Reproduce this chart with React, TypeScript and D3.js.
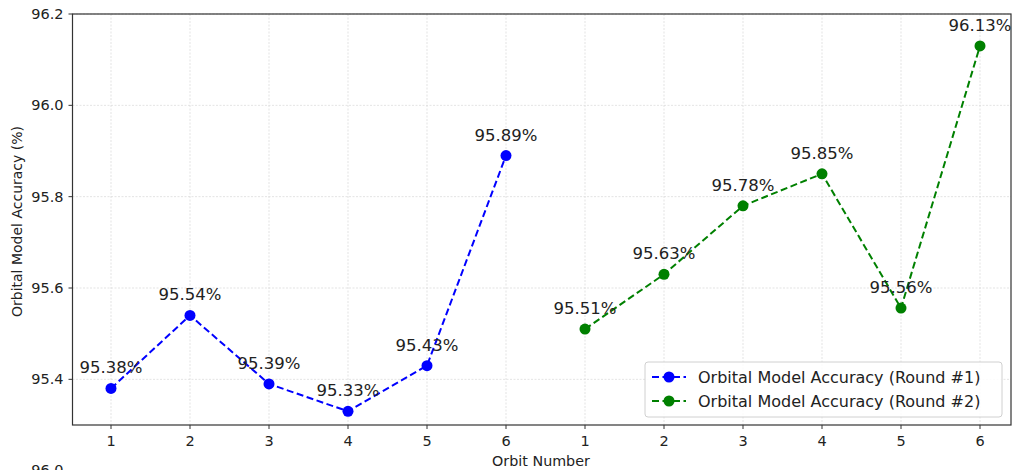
import React from "react";
import * as d3 from "d3";

const orbitLabels = ["1", "2", "3", "4", "5", "6", "1", "2", "3", "4", "5", "6"];
const round1 = [95.38, 95.54, 95.39, 95.33, 95.43, 95.89];
const round2 = [95.51, 95.63, 95.78, 95.85, 95.556, 96.13];
const yTicks = [95.4, 95.6, 95.8, 96.0, 96.2];
const seriesNames = ["Orbital Model Accuracy (Round #1)", "Orbital Model Accuracy (Round #2)"];
const seriesColors = ["#0000ff", "#008000"];

const W = 1012;
const H = 470;
const FONT = "DejaVu Sans, sans-serif";

export default function App() {
  const x = d3.scaleLinear().domain([0, 11]).range([111, 980]);
  const left = 72.5;
  const right = 1011;
  const top = 14;
  const bottom = 425;
  const y = d3.scaleLinear().domain([95.3, 96.2]).range([bottom, top]);
  const line = d3
    .line<[number, number]>()
    .x((d) => x(d[0]))
    .y((d) => y(d[1]));

  const s1: [number, number][] = round1.map((v, i) => [i, v]);
  const s2: [number, number][] = round2.map((v, i) => [i + 6, v]);
  const series = [s1, s2];
  const textColor = "#222";

  return (
    <svg
      width={W}
      height={H}
      style={{ position: "fixed", left: 0, top: 0, background: "#fff" }}
      fontFamily={FONT}
    >
      <rect x={0} y={0} width={W} height={H} fill="#fff" />
      {/* grid */}
      {orbitLabels.map((_, i) => (
        <line
          key={"gx" + i}
          x1={x(i)}
          x2={x(i)}
          y1={top}
          y2={bottom}
          stroke="#dcdcdc"
          strokeWidth={0.8}
          strokeDasharray="2,1.5"
        />
      ))}
      {yTicks.map((t) => (
        <line
          key={"gy" + t}
          x1={left}
          x2={right}
          y1={y(t)}
          y2={y(t)}
          stroke="#dcdcdc"
          strokeWidth={0.8}
          strokeDasharray="2,1.5"
        />
      ))}
      {/* series */}
      {series.map((s, k) => (
        <g key={"s" + k}>
          <path
            d={line(s) || ""}
            fill="none"
            stroke={seriesColors[k]}
            strokeWidth={2}
            strokeDasharray="7,3.5"
          />
          {s.map((d, i) => (
            <circle key={i} cx={x(d[0])} cy={y(d[1])} r={5.5} fill={seriesColors[k]} />
          ))}
          {s.map((d, i) => (
            <text
              key={"t" + i}
              x={x(d[0])}
              y={y(d[1]) - 15}
              textAnchor="middle"
              fontSize={16.5}
              fill={textColor}
            >
              {d[1].toFixed(2) + "%"}
            </text>
          ))}
        </g>
      ))}
      {/* frame */}
      <rect x={left} y={top} width={right - left} height={bottom - top} fill="none" stroke="#333" strokeWidth={1.2} />
      {/* x ticks */}
      {orbitLabels.map((lab, i) => (
        <g key={"xt" + i}>
          <line x1={x(i)} x2={x(i)} y1={bottom} y2={bottom + 4} stroke="#333" strokeWidth={1} />
          <text x={x(i)} y={bottom + 21} textAnchor="middle" fontSize={14.5} fill={textColor}>
            {lab}
          </text>
        </g>
      ))}
      {/* y ticks */}
      {yTicks.map((t) => (
        <g key={"yt" + t}>
          <line x1={left - 4} x2={left} y1={y(t)} y2={y(t)} stroke="#333" strokeWidth={1} />
          <text
            x={left - 9}
            y={y(t)}
            textAnchor="end"
            dominantBaseline="central"
            fontSize={14.5}
            fill={textColor}
          >
            {t.toFixed(1)}
          </text>
        </g>
      ))}
      <text x={541} y={466} textAnchor="middle" fontSize={14.3} fill={textColor}>
        Orbit Number
      </text>
      <text
        transform={`translate(22,${(top + bottom) / 2 + 2}) rotate(-90)`}
        textAnchor="middle"
        fontSize={14}
        fill={textColor}
      >
        Orbital Model Accuracy (%)
      </text>
      {/* partial tick label of a subplot below */}
      <text x={left - 9} y={475} textAnchor="end" fontSize={14.5} fill={textColor}>
        96.0
      </text>
      {/* legend */}
      <g>
        <rect x={645} y={362} width={357} height={55} rx={3} fill="#fff" fillOpacity={0.85} stroke="#d0d0d0" strokeWidth={1} />
        {seriesNames.map((name, k) => (
          <g key={"lg" + k}>
            <line
              x1={652}
              x2={686}
              y1={377 + k * 24}
              y2={377 + k * 24}
              stroke={seriesColors[k]}
              strokeWidth={2}
              strokeDasharray="7,3.5"
            />
            <circle cx={669} cy={377 + k * 24} r={5.5} fill={seriesColors[k]} />
            <text x={698} y={377 + k * 24} dominantBaseline="central" fontSize={16} fill={textColor}>
              {name}
            </text>
          </g>
        ))}
      </g>
    </svg>
  );
}
